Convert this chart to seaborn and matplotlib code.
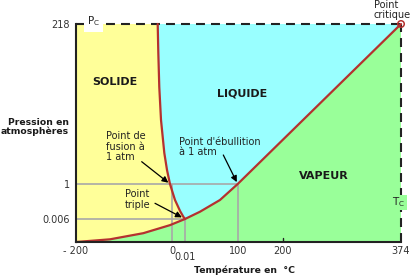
import numpy as np
import matplotlib
matplotlib.use("Agg")
import matplotlib.pyplot as plt
import seaborn as sns

# ---------------- data ----------------
temp_ticks = [-200, 0, 100, 200, 374]
temp_tick_labels = ["- 200", "0", "100", "200", "374"]
temp_minor_ticks = [0.01]
temp_minor_labels = ["0.01"]
press_ticks = [0.006, 1, 218]
press_tick_labels = ["0.006", "1", "218"]

triple_T, triple_P = 0.01, 0.006
boil_T, boil_P = 100, 1
crit_T, crit_P = 374, 218

# sublimation curve (solid / vapour)
sub_T = [-200, -129.2, -59.8, -4.2, 0.01]
sub_P = [0, 0.0007, 0.0023, 0.0044, 0.006]
# fusion curve (solid / liquid)
fus_T = [0.01, 0.0087, 0.0062, 0.0023, -4.2, -10.4, -16.0, -22.9, -26.5,
         -28.5, -29.8]
fus_P = [0.006, 0.071, 0.233, 0.546, 1, 20.0, 43.0, 87.8, 132.6,
         178.7, 218]
# vaporisation curve (liquid / vapour)
vap_T = [0.01, 28.5, 66.4, 100, 374]
vap_P = [0.006, 0.213, 0.546, 1, 218]

# schematic (non-linear) axis scales: value knots -> relative position
T_knots = [-200, 0, 0.01, 100, 200, 374]
T_pos = [0, 96, 109, 161.7, 207, 325]
P_knots = [0, 0.006, 1, 218]
P_pos = [0, 23, 58, 218]

# ---------------- style ----------------
sns.set_theme(style="white")
plt.rcParams["font.family"] = ["DejaVu Sans"]

W, H = 413, 276
fig = plt.figure(figsize=(W / 100, H / 100), dpi=100)
ax = fig.add_axes([76 / W, 34 / H, 325 / W, 218 / H])

YELLOW = "#FFFF99"
CYAN = "#99FFFF"
GREEN = "#99FF99"
RED = "#B5312F"
GRAY = "#A8A8A8"
DARK = "#222222"

ax.set_facecolor(GREEN)

# regions
ax.fill(sub_T + fus_T[1:] + [-200], sub_P + fus_P[1:] + [218],
        color=YELLOW, lw=0, zorder=0.5)
ax.fill(fus_T + vap_T[::-1], fus_P + vap_P[::-1], color=CYAN, lw=0, zorder=0.5)

# guide lines
gkw = dict(color=GRAY, lw=1.2, zorder=1, solid_capstyle="butt")
ax.plot([-200, boil_T], [boil_P, boil_P], **gkw)
ax.plot([-200, triple_T], [triple_P, triple_P], **gkw)
ax.plot([0, 0], [0, boil_P], **gkw)
ax.plot([triple_T, triple_T], [0, triple_P], **gkw)
ax.plot([boil_T, boil_T], [0, boil_P], **gkw)

# curves
for xs, ys in [(sub_T, sub_P), (fus_T, fus_P), (vap_T, vap_P)]:
    sns.lineplot(x=xs, y=ys, sort=False, estimator=None, color=RED, lw=1.6,
                 ax=ax, zorder=3)

# critical dashed lines
dash = (0, (4.3, 2.9))
ax.axhline(crit_P, color=DARK, lw=1.5, ls=dash, zorder=2, clip_on=False)
ax.axvline(crit_T, color=DARK, lw=1.5, ls=dash, zorder=2, clip_on=False)

sns.scatterplot(x=[crit_T], y=[crit_P], marker="o", s=22, facecolor="none",
                edgecolor=RED, linewidth=1.1, ax=ax, zorder=5)
for c in ax.collections:
    c.set_clip_on(False)
for l in ax.lines:
    l.set_clip_on(False)

# scales
def f_T(x):
    return np.interp(x, T_knots, T_pos)
def i_T(u):
    return np.interp(u, T_pos, T_knots)
def f_P(y):
    return np.interp(y, P_knots, P_pos)
def i_P(v):
    return np.interp(v, P_pos, P_knots)

ax.set_xscale("function", functions=(f_T, i_T))
ax.set_yscale("function", functions=(f_P, i_P))
ax.set_xlim(-200, 374)
ax.set_ylim(0, 218)

# ticks
ax.set_xticks(temp_ticks)
ax.set_xticklabels(temp_tick_labels)
ax.set_xticks(temp_minor_ticks, minor=True)
ax.set_xticklabels(temp_minor_labels, minor=True)
ax.set_yticks(press_ticks)
ax.set_yticklabels(press_tick_labels)
ax.yaxis.set_minor_locator(matplotlib.ticker.NullLocator())
ax.tick_params(axis="x", which="major", length=0, pad=3, labelsize=7, labelcolor="#333333")
ax.tick_params(axis="x", which="minor", length=0, pad=7.5, labelsize=7, labelcolor="#333333")
ax.tick_params(axis="y", which="major", length=0, pad=4.5, labelsize=7, labelcolor="#333333")
ax.axvline(200, 0, 4 / 218, color=DARK, lw=1.0, zorder=2)

for side in ["top", "right"]:
    ax.spines[side].set_visible(False)
for side in ["left", "bottom"]:
    ax.spines[side].set_color(DARK)
    ax.spines[side].set_linewidth(1.5)
    ax.spines[side].set_zorder(4)

# axis labels
ax.set_ylabel("Pression en\natmosphères", rotation=0, ha="right", va="center",
              multialignment="right", fontsize=6.7, fontweight="bold",
              color="#1a1a1a", linespacing=1.05)
ax.yaxis.set_label_coords(-7 / 325, (242 - 127) / 218)
ax.set_xlabel("Température en  °C", fontsize=6.7, fontweight="bold",
              color="#1a1a1a", va="center")
ax.xaxis.set_label_coords((245 - 76) / 325, (242 - 270) / 218)

def ftext(x, y, s, **kw):
    return fig.text(x / W, 1 - y / H, s, **kw)

# region names
for s, x, y in [("SOLIDE", 114.5, 82), ("LIQUIDE", 242.5, 94), ("VAPEUR", 323.5, 176)]:
    ftext(x, y, s, ha="center", va="center", fontsize=8, fontweight="bold",
          color="#1a1a1a")

akw = dict(ha="left", va="center", fontsize=7, color="#222222", linespacing=1.1)
ftext(106, 146.7, "Point de\nfusion à\n1 atm", **akw)
ftext(179, 147, "Point d'ébullition\nà 1 atm", **akw)
ftext(125, 199.5, "Point\ntriple", **akw)
ftext(374, 10, "Point\ncritique", **akw)

ftext(87, 21.5, "P$_\\mathregular{C}$", ha="left", va="center", fontsize=7.5,
      color="#222222",
      bbox=dict(boxstyle="square,pad=0.3", fc="white", ec="none"))
ftext(399, 202.5, "T$_\\mathregular{C}$", ha="center", va="center", fontsize=7.5,
      color="#222222",
      bbox=dict(boxstyle="square,pad=0.1", fc=GREEN, ec="none"), zorder=6)

# arrows
arw = dict(arrowstyle="-|>", color="black", lw=0.9, mutation_scale=9, shrinkA=0)
ax.annotate("", xy=(fus_T[4], fus_P[4]), xytext=(141.7, H - 161.7),
            textcoords="figure pixels", arrowprops=dict(arw, shrinkB=1.5))
ax.annotate("", xy=(boil_T, boil_P), xytext=(223.3, H - 155),
            textcoords="figure pixels", arrowprops=dict(arw, shrinkB=1.5))
ax.annotate("", xy=(triple_T, triple_P), xytext=(155, H - 203.3),
            textcoords="figure pixels", arrowprops=dict(arw, shrinkB=2.5))

fig.savefig("out.png", dpi=100)
